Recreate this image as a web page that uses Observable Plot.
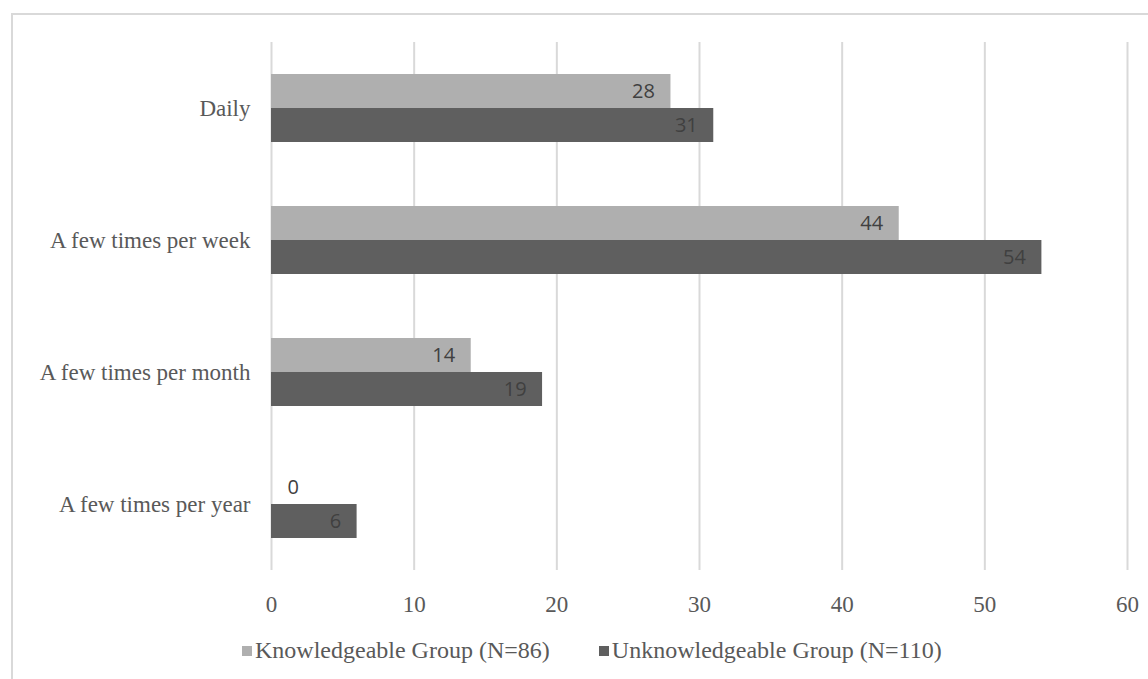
<!DOCTYPE html>
<html>
<head>
<meta charset="utf-8">
<script src="https://cdn.jsdelivr.net/npm/d3@7"></script>
<script src="https://cdn.jsdelivr.net/npm/@observablehq/plot@0.6"></script>
<style>
  html, body { margin: 0; padding: 0; background: #fff; }
  #wrap { position: relative; width: 1148px; height: 679px; overflow: hidden; }
  .bt { position: absolute; left: 11px; top: 13px; width: 1200px; height: 0; border-top: 2px solid #d9d9d9; }
  .bl { position: absolute; left: 11px; top: 13px; width: 0; height: 700px; border-left: 2px solid #d9d9d9; }
  #chart { position: absolute; left: 0; top: 0; }
  #legend { position: absolute; top: 637px; left: 242px; font-family: "Liberation Serif", "Times New Roman", serif; font-size: 24px; color: #595959; display: flex; align-items: center; white-space: nowrap; }
  #legend .sw { display: inline-block; width: 10px; height: 10px; margin-right: 3px; }
  #legend .item { display: flex; align-items: center; }
</style>
</head>
<body>
<div id="wrap">
  <div class="bt"></div>
  <div class="bl"></div>
  <div id="chart"></div>
  <div id="legend"></div>
</div>
<script>
const categories = ["Daily", "A few times per week", "A few times per month", "A few times per year"];
const seriesNames = ["Knowledgeable Group (N=86)", "Unknowledgeable Group (N=110)"];
const knowledgeable = [28, 44, 14, 0];
const unknowledgeable = [31, 54, 19, 6];
const xTicks = [0, 10, 20, 30, 40, 50, 60];
const colors = ["#afafaf", "#5f5f5f"];

const kData = categories.map((c, i) => ({category: c, value: knowledgeable[i]}));
const uData = categories.map((c, i) => ({category: c, value: unknowledgeable[i]}));

const labelFont = {fontFamily: "'Open Sans', sans-serif", fontSize: 20, fill: "#404040"};

const chart = Plot.plot({
  width: 1148,
  height: 630,
  marginLeft: 271,
  marginRight: 21,
  marginTop: 42,
  marginBottom: 60,
  style: {fontFamily: "'Liberation Serif', 'Times New Roman', serif", fontSize: "23px", color: "#595959", background: "transparent"},
  x: {domain: [0, 60], ticks: xTicks, label: null},
  y: {domain: categories, paddingInner: 0.485, paddingOuter: 0.2425, label: null},
  marks: [
    Plot.gridX(xTicks, {stroke: "#d9d9d9", strokeOpacity: 1, strokeWidth: 2}),
    Plot.barX(kData, {x: "value", y: "category", fill: colors[0], insetBottom: 34, insetTop: 0}),
    Plot.barX(uData, {x: "value", y: "category", fill: colors[1], insetTop: 34, insetBottom: 0}),
    Plot.text(kData.filter(d => d.value > 0), {x: "value", y: "category", text: d => String(d.value), dy: -17, dx: -16, textAnchor: "end", ...labelFont}),
    Plot.text(kData.filter(d => d.value === 0), {x: "value", y: "category", text: d => String(d.value), dy: -17, dx: 16, textAnchor: "start", ...labelFont}),
    Plot.text(uData.filter(d => d.value > 0), {x: "value", y: "category", text: d => String(d.value), dy: 17, dx: -16, textAnchor: "end", ...labelFont}),
    Plot.axisX({ticks: xTicks, tickSize: 0, tickPadding: 25, anchor: "bottom", fill: "#595959"}),
    Plot.axisY({tickSize: 0, tickPadding: 21, anchor: "left", fill: "#595959"})
  ]
});
document.getElementById("chart").appendChild(chart);

const legend = document.getElementById("legend");
seriesNames.forEach((name, i) => {
  const item = document.createElement("span");
  item.className = "item";
  item.style.marginRight = i === 0 ? "49px" : "0";
  const sw = document.createElement("span");
  sw.className = "sw";
  sw.style.background = colors[i];
  item.appendChild(sw);
  item.appendChild(document.createTextNode(name));
  legend.appendChild(item);
});
</script>
</body>
</html>
